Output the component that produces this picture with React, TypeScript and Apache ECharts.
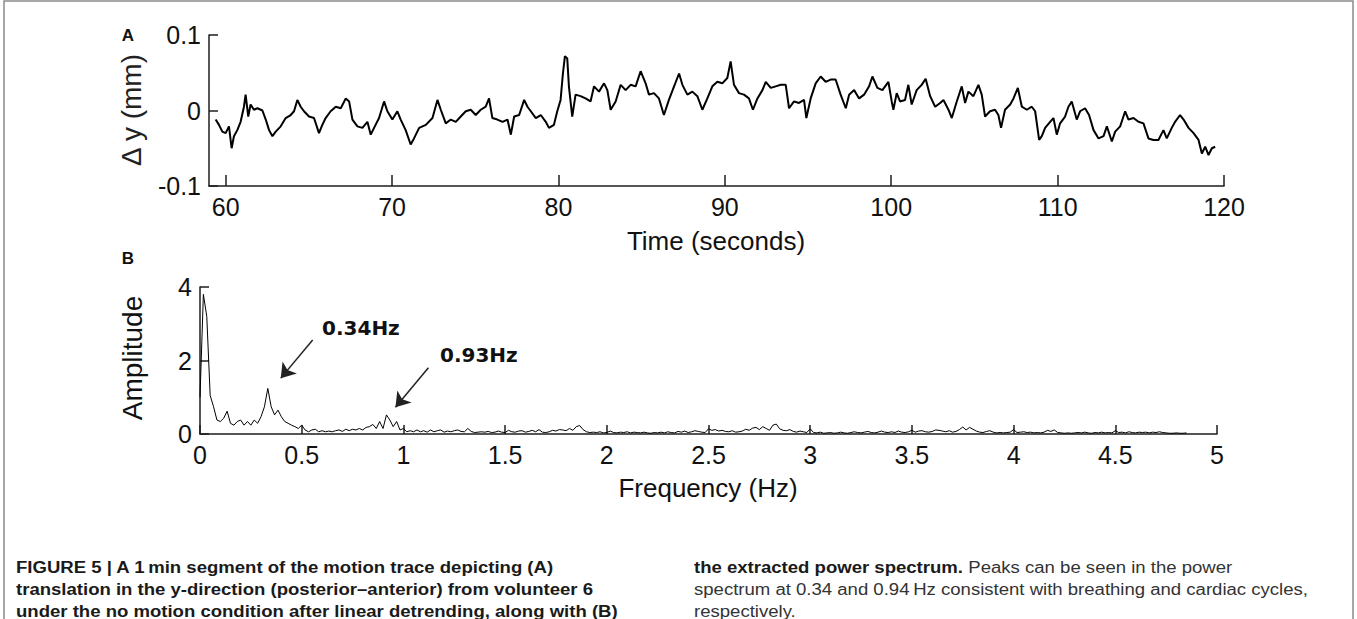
import React, { useEffect, useRef } from "react";
import * as echarts from "echarts";

// Panel A: motion trace (time in s, Δy in mm)
const timeA = [
  59.4, 59.6, 59.8, 60.0, 60.2, 60.36, 60.5, 60.7, 60.9, 61.1, 61.2, 61.36, 61.5, 61.7, 61.91, 62.21, 62.41, 62.61, 62.81, 63.01,
  63.31, 63.61, 63.91, 64.11, 64.31, 64.51, 64.71, 65.01, 65.31, 65.61, 65.81, 66.01, 66.31, 66.62, 66.92, 67.22, 67.42, 67.62, 67.92, 68.22,
  68.52, 68.72, 68.92, 69.22, 69.52, 69.72, 70.02, 70.32, 70.52, 70.82, 71.12, 71.32, 71.63, 72.03, 72.43, 72.73, 72.93, 73.23, 73.53, 73.83,
  74.13, 74.43, 74.73, 75.03, 75.33, 75.63, 75.83, 76.03, 76.33, 76.64, 76.94, 77.14, 77.34, 77.64, 77.94, 78.14, 78.34, 78.64, 78.94, 79.24,
  79.43, 79.73, 79.93, 80.13, 80.27, 80.39, 80.53, 80.63, 80.83, 81.03, 81.33, 81.63, 81.93, 82.14, 82.44, 82.74, 82.94, 83.14, 83.44, 83.74,
  84.04, 84.34, 84.64, 84.94, 85.24, 85.44, 85.74, 86.04, 86.34, 86.64, 86.95, 87.25, 87.45, 87.75, 88.05, 88.35, 88.65, 88.95, 89.25, 89.55,
  89.85, 90.15, 90.35, 90.55, 90.85, 91.15, 91.45, 91.69, 91.96, 92.26, 92.46, 92.76, 93.06, 93.36, 93.66, 93.86, 94.16, 94.46, 94.76, 94.9,
  95.16, 95.46, 95.76, 96.06, 96.36, 96.66, 96.96, 97.27, 97.47, 97.77, 98.07, 98.37, 98.67, 98.87, 99.17, 99.47, 99.83, 100.03, 100.13, 100.33,
  100.53, 100.83, 101.03, 101.23, 101.53, 101.83, 102.07, 102.34, 102.64, 102.94, 103.14, 103.44, 103.64, 103.94, 104.24, 104.44, 104.64, 104.94, 105.24, 105.44,
  105.64, 105.94, 106.24, 106.44, 106.6, 106.84, 107.15, 107.35, 107.61, 107.85, 108.15, 108.45, 108.65, 108.89, 109.05, 109.25, 109.55, 109.75, 109.95, 110.15,
  110.45, 110.65, 110.85, 111.15, 111.35, 111.65, 111.89, 112.16, 112.46, 112.76, 112.96, 113.26, 113.46, 113.76, 114.06, 114.26, 114.56, 114.86, 115.16, 115.46,
  115.76, 116.06, 116.36, 116.56, 116.86, 117.06, 117.36, 117.57, 117.87, 118.17, 118.47, 118.67, 118.87, 119.07, 119.27, 119.47,
];
const dyA = [
  -0.012, -0.019, -0.028, -0.03, -0.021, -0.05, -0.034, -0.026, -0.015, 0.005, 0.021, -0.008, 0.008, 0.001, 0.003, 0.0, -0.012, -0.026, -0.034, -0.028,
  -0.021, -0.01, -0.006, -0.001, 0.014, 0.005, -0.001, -0.008, -0.01, -0.03, -0.019, -0.01, -0.001, 0.005, 0.003, 0.016, 0.012, -0.012, -0.021, -0.023,
  -0.015, -0.032, -0.023, -0.01, 0.012, -0.001, -0.012, -0.001, -0.012, -0.026, -0.045, -0.037, -0.023, -0.019, -0.01, 0.014, 0.001, -0.017, -0.012, -0.015,
  -0.008, -0.001, 0.001, -0.006, 0.001, 0.005, 0.016, -0.01, -0.012, -0.015, -0.012, -0.032, -0.008, -0.006, 0.014, 0.005, -0.001, -0.01, -0.006, -0.015,
  -0.023, -0.019, -0.001, 0.014, 0.049, 0.072, 0.069, 0.032, -0.008, 0.021, 0.019, 0.016, 0.012, 0.032, 0.025, 0.036, 0.027, 0.001, 0.012, 0.034,
  0.027, 0.034, 0.032, 0.052, 0.036, 0.021, 0.023, 0.016, -0.006, 0.014, 0.032, 0.049, 0.034, 0.021, 0.025, 0.019, 0.001, 0.016, 0.032, 0.038,
  0.036, 0.043, 0.065, 0.034, 0.023, 0.021, 0.016, 0.001, 0.016, 0.027, 0.038, 0.03, 0.032, 0.034, 0.034, 0.003, 0.012, 0.01, 0.014, -0.01,
  0.016, 0.036, 0.045, 0.038, 0.041, 0.041, 0.021, 0.003, 0.021, 0.027, 0.016, 0.021, 0.032, 0.045, 0.03, 0.027, 0.038, 0.012, 0.001, 0.023,
  0.012, 0.014, 0.034, 0.008, 0.027, 0.034, 0.042, 0.019, 0.005, 0.01, 0.014, 0.001, -0.01, 0.012, 0.032, 0.01, 0.025, 0.019, 0.034, 0.021,
  -0.008, -0.001, 0.001, -0.006, -0.023, 0.001, 0.008, 0.016, 0.03, 0.005, 0.001, 0.005, -0.001, -0.039, -0.034, -0.023, -0.015, -0.01, -0.032, -0.017,
  -0.008, 0.005, 0.012, -0.012, -0.001, 0.003, -0.006, -0.026, -0.037, -0.034, -0.021, -0.041, -0.028, -0.021, -0.001, -0.012, -0.01, -0.015, -0.017, -0.037,
  -0.039, -0.039, -0.026, -0.037, -0.023, -0.015, -0.006, -0.012, -0.023, -0.03, -0.039, -0.057, -0.048, -0.059, -0.05, -0.048,
];
const xTicksA = [60, 70, 80, 90, 100, 110, 120];

// Panel B: amplitude spectrum, one value per 1/60 Hz bin
const BIN_HZ = 1 / 60;
const ampB = [
  1.0, 3.8, 3.2, 1.05, 0.74, 0.38, 0.34, 0.43, 0.62, 0.29,
  0.24, 0.34, 0.38, 0.24, 0.34, 0.24, 0.38, 0.29, 0.47, 0.74,
  1.24, 0.74, 0.52, 0.65, 0.47, 0.34, 0.29, 0.24, 0.2, 0.15,
  0.24, 0.11, 0.06, 0.11, 0.13, 0.06, 0.09, 0.06, 0.08, 0.06,
  0.09, 0.11, 0.07, 0.13, 0.09, 0.13, 0.11, 0.15, 0.11, 0.18,
  0.2, 0.26, 0.15, 0.34, 0.15, 0.52, 0.38, 0.2, 0.34, 0.11,
  0.15, 0.06, 0.09, 0.06, 0.11, 0.06, 0.09, 0.05, 0.11, 0.06,
  0.09, 0.11, 0.05, 0.08, 0.06, 0.09, 0.11, 0.07, 0.06, 0.15,
  0.07, 0.04, 0.05, 0.06, 0.05, 0.07, 0.04, 0.05, 0.08, 0.05,
  0.04, 0.1, 0.06, 0.05, 0.08, 0.09, 0.05, 0.07, 0.1, 0.06,
  0.12, 0.05, 0.04, 0.06, 0.1, 0.08, 0.12, 0.11, 0.09, 0.15,
  0.1, 0.2, 0.23, 0.12, 0.06, 0.04, 0.05, 0.04, 0.06, 0.03,
  0.04, 0.08, 0.04, 0.03, 0.05, 0.04, 0.06, 0.03, 0.05, 0.04,
  0.03, 0.05, 0.03, 0.02, 0.04, 0.03, 0.05, 0.03, 0.06, 0.04,
  0.03, 0.07, 0.05, 0.08, 0.04, 0.06, 0.09, 0.07, 0.05, 0.04,
  0.14, 0.1, 0.12, 0.08, 0.1, 0.07, 0.06, 0.09, 0.05, 0.06,
  0.08, 0.13, 0.1, 0.16, 0.18, 0.12, 0.2, 0.15, 0.1, 0.24,
  0.27, 0.14, 0.1, 0.09, 0.12, 0.07, 0.05, 0.08, 0.06, 0.04,
  0.14, 0.04, 0.03, 0.05, 0.02, 0.03, 0.04, 0.02, 0.03, 0.05,
  0.03, 0.02, 0.04, 0.06, 0.04, 0.03, 0.05, 0.07, 0.04, 0.03,
  0.05, 0.08, 0.05, 0.04, 0.06, 0.04, 0.08, 0.05, 0.04, 0.06,
  0.1, 0.05, 0.08, 0.09, 0.06, 0.05, 0.07, 0.11, 0.1, 0.08,
  0.06, 0.09, 0.05, 0.07, 0.12, 0.19, 0.11, 0.18, 0.13, 0.08,
  0.05, 0.04, 0.07, 0.09, 0.05, 0.03, 0.04, 0.03, 0.04, 0.05,
  0.12, 0.04, 0.05, 0.06, 0.04, 0.05, 0.03, 0.04, 0.03, 0.05,
  0.1, 0.07, 0.11, 0.04, 0.03, 0.02, 0.03, 0.02, 0.03, 0.04,
  0.03, 0.05, 0.03, 0.02, 0.04, 0.03, 0.05, 0.03, 0.04, 0.03,
  0.09, 0.04, 0.05, 0.03, 0.06, 0.04, 0.03, 0.05, 0.04, 0.05,
  0.03, 0.05, 0.04, 0.06, 0.04, 0.03, 0.02, 0.02, 0.03, 0.02, 0.02, 0.03,
];

// Peak annotations (in data units of panel B)
const peakLabels = ["0.34Hz", "0.93Hz"];
const peakLabelAt = [[0.6, 2.88], [1.18, 2.15]];
const peakArrowFrom = [[0.554, 2.56], [1.123, 1.8]];
const peakArrowTo = [[0.397, 1.52], [0.961, 0.73]];

const captionLeft = [
  "FIGURE 5 | A 1\u2009min segment of the motion trace depicting (A)",
  "translation in the y-direction (posterior\u2013anterior) from volunteer 6",
  "under the no motion condition after linear detrending, along with (B)",
];
const captionRightBold = "the extracted power spectrum.";
const captionRight = [
  " Peaks can be seen in the power",
  "spectrum at 0.34 and 0.94\u2009Hz consistent with breathing and cardiac cycles,",
  "respectively.",
];

const FONT = "'Liberation Sans', Arial, sans-serif";
const AX = "#1e1e1e";
const CAP_SCALE_X = 1.16;

export default function App() {
  const ref = useRef<HTMLDivElement>(null);
  useEffect(() => {
    document.body.style.margin = "0";
    const chart = echarts.init(ref.current!, null, { renderer: "svg" });
    const dataA = timeA.map((t, i) => [t, dyA[i]]);
    const dataB = ampB.map((a, i) => [i * BIN_HZ, a]);

    const axisCommon = {
      axisLine: { show: true, onZero: false, lineStyle: { color: AX, width: 1.5 } },
      axisTick: { show: true, inside: true, length: 9, lineStyle: { color: AX, width: 1.5 } },
      splitLine: { show: false },
      axisLabel: { fontSize: 25, color: "#111", fontFamily: FONT, margin: 8 },
    };

    chart.setOption({
      animation: false,
      backgroundColor: "#fff",
      grid: [
        { left: 209, top: 35, width: 1015, height: 151 },
        { left: 200, top: 287, width: 1017, height: 147 },
      ],
      xAxis: [
        {
          ...axisCommon,
          type: "value",
          gridIndex: 0,
          min: 59,
          max: 120,
          axisTick: { ...axisCommon.axisTick, customValues: xTicksA, length: 11 },
          axisLabel: { ...axisCommon.axisLabel, customValues: xTicksA },
        },
        {
          ...axisCommon,
          type: "value",
          gridIndex: 1,
          min: 0,
          max: 5,
          interval: 0.5,
        },
      ],
      yAxis: [
        {
          ...axisCommon,
          type: "value",
          gridIndex: 0,
          min: -0.1,
          max: 0.1,
          interval: 0.1,
          axisLabel: {
            ...axisCommon.axisLabel,
            formatter: (v: number) => String(Math.round(v * 10) / 10),
          },
        },
        {
          ...axisCommon,
          type: "value",
          gridIndex: 1,
          min: 0,
          max: 4,
          interval: 2,
        },
      ],
      series: [
        {
          type: "line",
          xAxisIndex: 0,
          yAxisIndex: 0,
          data: dataA,
          showSymbol: false,
          lineStyle: { color: "#000", width: 2 },
          silent: true,
        },
        {
          type: "line",
          xAxisIndex: 1,
          yAxisIndex: 1,
          data: dataB,
          showSymbol: false,
          lineStyle: { color: "#000", width: 1 },
          silent: true,
          markLine: {
            silent: true,
            symbol: ["none", "arrow"],
            symbolSize: 14,
            label: { show: false },
            lineStyle: { color: "#222", width: 1.5, type: "solid" },
            data: peakArrowFrom.map((p, i) => [{ coord: p }, { coord: peakArrowTo[i] }]),
          },
          markPoint: {
            silent: true,
            symbol: "circle",
            symbolSize: 0,
            data: peakLabels.map((s, i) => ({
              coord: peakLabelAt[i],
              value: s,
              label: {
                show: true,
                position: "right",
                distance: 0,
                formatter: s,
                fontSize: 20,
                fontWeight: "bold",
                fontFamily: "'DejaVu Sans', sans-serif",
                color: "#111",
              },
            })),
          },
        },
      ],
      graphic: [
        {
          type: "rect",
          shape: { x: 4, y: 1, width: 1349, height: 660 },
          style: { fill: "none", stroke: "#8a8a8a", lineWidth: 1.5 },
          silent: true,
        },
        {
          type: "text",
          x: 128,
          y: 35,
          style: { text: "A", font: `bold 17px ${FONT}`, fill: "#111", textAlign: "center", textVerticalAlign: "middle" },
        },
        {
          type: "text",
          x: 128,
          y: 258,
          style: { text: "B", font: `bold 17px ${FONT}`, fill: "#111", textAlign: "center", textVerticalAlign: "middle" },
        },
        {
          type: "text",
          x: 131,
          y: 110,
          rotation: Math.PI / 2,
          style: { text: "\u0394 y (mm)", font: `28px ${FONT}`, fill: "#222", textAlign: "center", textVerticalAlign: "middle" },
        },
        {
          type: "text",
          x: 716,
          y: 241,
          style: { text: "Time (seconds)", font: `26px ${FONT}`, fill: "#111", textAlign: "center", textVerticalAlign: "middle" },
        },
        {
          type: "text",
          x: 132,
          y: 358,
          rotation: Math.PI / 2,
          style: { text: "Amplitude", font: `28px ${FONT}`, fill: "#111", textAlign: "center", textVerticalAlign: "middle" },
        },
        {
          type: "text",
          x: 708,
          y: 488,
          style: { text: "Frequency (Hz)", font: `26px ${FONT}`, fill: "#111", textAlign: "center", textVerticalAlign: "middle" },
        },
        {
          type: "text",
          x: 16,
          y: 556,
          scaleX: CAP_SCALE_X,
          style: {
            text: captionLeft.join("\n"),
            font: `bold 16px ${FONT}`,
            fill: "#1a1a1a",
            lineHeight: 22,
            textVerticalAlign: "top",
          },
        },
        {
          type: "text",
          x: 694,
          y: 556,
          scaleX: CAP_SCALE_X,
          style: {
            text:
              `{b|${captionRightBold}}{r|${captionRight[0]}}\n{r|${captionRight[1]}}\n{r|${captionRight[2]}}`,
            lineHeight: 22,
            textVerticalAlign: "top",
            rich: {
              b: { font: `bold 16px ${FONT}`, fill: "#1a1a1a", lineHeight: 22 },
              r: { font: `16px ${FONT}`, fill: "#333", lineHeight: 22 },
            },
          },
        },
      ],
    });
    return () => chart.dispose();
  }, []);
  return <div ref={ref} style={{ position: "fixed", left: 0, top: 0, width: 1357, height: 619 }} />;
}
